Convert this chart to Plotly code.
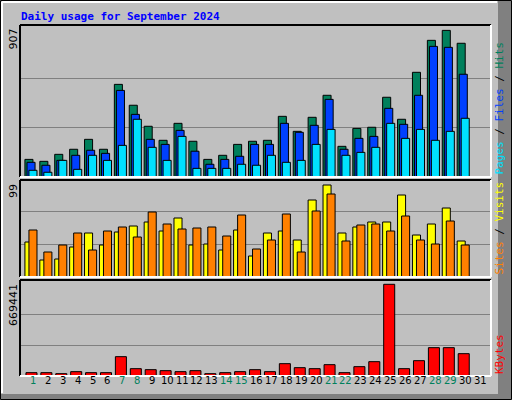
import plotly.graph_objects as go

days = list(range(1, 32))
hits = [108,96,139,170,231,170,568,440,311,225,329,219,108,133,200,219,225,372,280,366,501,188,298,305,489,354,642,838,899,820,0]
files = [90,72,102,133,164,145,531,384,231,200,286,158,78,108,127,200,200,329,274,317,476,170,237,249,421,323,501,801,795,630,0]
pages = [41,29,102,47,133,102,194,354,182,102,249,53,53,53,78,72,133,90,102,200,292,133,151,182,329,237,292,225,280,360,0]
sites = [35,17,18,30,44,32,45,51,55,46,59,32,33,27,47,21,44,46,37,77,92,44,50,55,55,82,42,53,69,36,0]
visits = [47,25,32,44,27,46,50,40,65,53,48,49,50,41,62,28,37,63,25,66,83,36,52,53,46,61,37,33,56,32,0]
kbytes = [24300,24300,17000,31600,24300,24300,141200,53600,46300,39000,31600,39000,17000,24300,31600,46300,31600,90100,60900,53600,82800,24300,68200,104700,669441,53600,112000,206900,206900,163100,0]
weekend = [1,7,8,14,15,21,22,28,29]
max_top, max_mid, max_bot = 907, 99, 669441

W, H = 512, 400
def py(y): return 1 - y / H
def px(x): return x / W

fig = go.Figure()
line = dict(color="black", width=1)
def bar(y, color, off, w, xa, ya):
    fig.add_trace(go.Bar(x=days, y=y, marker=dict(color=color, line=line), width=w, offset=off,
                         xaxis=xa, yaxis=ya, showlegend=False, hoverinfo="skip"))

bar(hits, "#00805c", -0.54, 0.54, "x", "y")
bar(files, "#0040ff", -0.40, 0.54, "x", "y")
bar(pages, "#00e0ff", -0.27, 0.54, "x", "y")
bar(sites, "#ffff00", -0.54, 0.54, "x2", "y2")
bar(visits, "#ff8000", -0.27, 0.54, "x2", "y2")
bar(kbytes, "#ff0000", -0.47, 0.74, "x3", "y3")

xr = [0.13, 31.73]
dx = [px(20), px(491)]
xcommon = dict(range=xr, domain=dx, showticklabels=False, showgrid=False, zeroline=False, ticks="")
panels = [(25, 177), (180, 277), (280, 376)]
ranges = [[0, 932], [0, 97], [0, 700800]]
maxes = [max_top, max_mid, max_bot]
lay = {}
for i, ((t, b), r, m) in enumerate(zip(panels, ranges, maxes)):
    s = "" if i == 0 else str(i + 1)
    lay["xaxis" + s] = dict(xcommon, anchor="y" + s)
    lay["yaxis" + s] = dict(range=r, domain=[py(b), py(t)], anchor="x" + s, showticklabels=False,
                            tickvals=[m / 3, 2 * m / 3], showgrid=True, gridcolor="#808080", gridwidth=1,
                            zeroline=False, ticks="")

shapes = []
def ln(x0, y0, x1, y1, c, w=1):
    shapes.append(dict(type="line", xref="paper", yref="paper", x0=px(x0), y0=py(y0), x1=px(x1), y1=py(y1),
                       line=dict(color=c, width=w)))
shapes.append(dict(type="rect", xref="paper", yref="paper", x0=px(498), x1=px(511), y0=py(399), y1=py(1),
                   fillcolor="#808080", line=dict(width=0)))
shapes.append(dict(type="rect", xref="paper", yref="paper", x0=px(1), x1=px(511), y0=py(399), y1=py(394),
                   fillcolor="#808080", line=dict(width=0)))
ln(0.5, 0.5, 511.5, 0.5, "black"); ln(0.5, 0.5, 0.5, 399.5, "black")
ln(511.5, 0.5, 511.5, 399.5, "black"); ln(0.5, 399.5, 511.5, 399.5, "black")
ln(2, 2, 497, 2, "white", 2); ln(2, 2, 2, 393, "white", 2)
for t, b in panels:
    ln(20, t, 491, t, "black", 2); ln(20, t, 20, b, "black", 2)
    ln(491, t, 491, b, "white", 2); ln(20, b, 491, b, "white", 2)

mono = "DejaVu Sans Mono"
ann = [dict(text="<b>Daily usage for September 2024</b>", x=px(19), y=py(16), xref="paper", yref="paper",
            xanchor="left", yanchor="middle", showarrow=False, font=dict(family=mono, size=11, color="#0000ff"))]
for lbl, (t, b) in zip([str(max_top), str(max_mid), str(max_bot)], panels):
    ann.append(dict(text=lbl, x=px(13), y=py(t + 2), xref="paper", yref="paper", textangle=-90,
                    xanchor="center", yanchor="top", showarrow=False, font=dict(family="DejaVu Sans", size=11, color="black")))
right = [
    ("<span style='color:#00e0ff'>Pages</span> / <span style='color:#0040ff'>Files</span> / <span style='color:#00805c'>Hits</span>", panels[0]),
    ("<span style='color:#ff8000'>Sites</span> / <span style='color:#ffff00'>Visits</span>", panels[1]),
    ("<span style='color:#ff0000'>KBytes</span>", panels[2]),
]
for txt, (t, b) in right:
    ann.append(dict(text=txt, x=px(499), y=py(b), xref="paper", yref="paper", textangle=-90,
                    xanchor="center", yanchor="bottom", showarrow=False, font=dict(family=mono, size=11, color="black")))
for d in days:
    ann.append(dict(text=str(d), x=d, y=py(388), xref="x3", yref="paper", showarrow=False,
                    font=dict(family="DejaVu Sans", size=10, color="#00805c" if d in weekend else "black")))

fig.update_layout(**lay, width=W, height=H, margin=dict(l=0, r=0, t=0, b=0), paper_bgcolor="#c0c0c0",
                  plot_bgcolor="#c0c0c0", barmode="overlay", shapes=shapes, annotations=ann)
fig.write_html("out.html", config={"displayModeBar": False})
with open("out.html", encoding="utf-8") as f:
    html = f.read()
html = html.replace("<head>", "<head><style>html,body{margin:0;padding:0;overflow:hidden;}</style>", 1)
with open("out.html", "w", encoding="utf-8") as f:
    f.write(html)
